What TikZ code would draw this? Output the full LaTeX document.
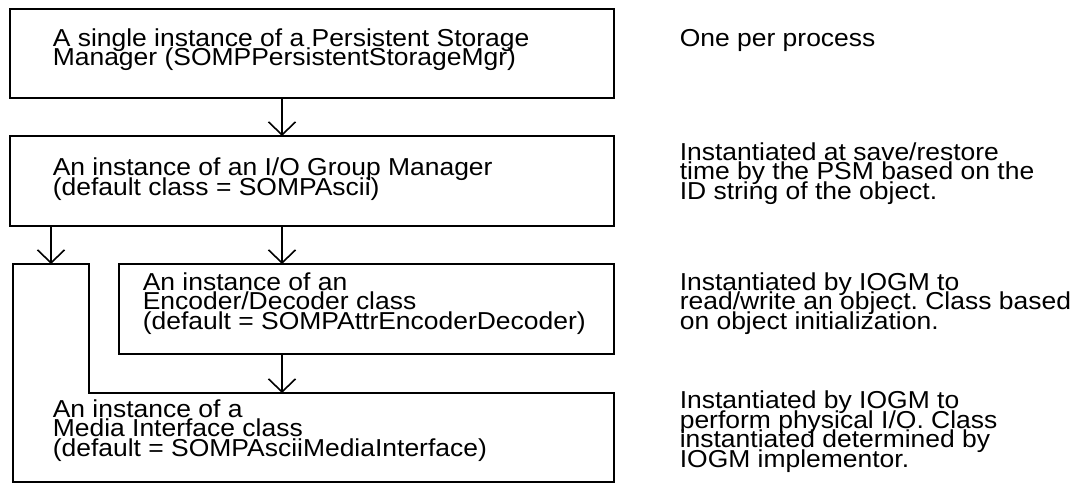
\documentclass[tikz,border=0pt]{standalone}
\usepackage{fontspec}
\setmainfont{Liberation Sans}[FakeStretch=1.08]
\usetikzlibrary{arrows.meta}
\tikzset{
	every path/.style={line width=1.6pt},
	box/.style={
		draw,
		rectangle,
		inner sep=0pt,
		outer sep=0pt,
	},
	hole/.style={
		rectangle,
		inner sep=0pt,
		outer sep=0pt,
	},
	txt/.style={
		font={\fontsize{24.5}{19.5}\selectfont\lineskiplimit=-100pt\frenchspacing},
		align=left,
		inner sep=0pt,
		anchor=base west,
	},
	flow/.style={
		-{Straight Barb[length=13pt,width=27pt]}
	},
}

\begin{document}
\begin{tikzpicture}[x=1pt,y=-1pt]
	\useasboundingbox (0,0) rectangle (1083,493);

	% the four levels, top to bottom
	\node[box,minimum width=604pt,minimum height=89pt,anchor=north west] (psm) at (10,9) {};
	\node[box,minimum width=604pt,minimum height=90pt,anchor=north west] (iogm) at (10,136) {};
	\node[box,minimum width=495pt,minimum height=90pt,anchor=north west] (encdec) at (119,264) {};
	\node[hole,minimum width=601pt,minimum height=218pt,anchor=north west] (media) at (13,264) {};
	\coordinate (notch) at (89,393);
	\draw (media.south west) -- (media.north west) -- (media.north west -| notch)
		-- (notch) -- (notch -| media.east) -- (media.south east) -- cycle;

	% base is the last line of each text
	\node[txt] (psmtext) at (52,65.5) {A single instance of a Persistent Storage\\Manager (SOMPPersistentStorageMgr)};
	\node[txt] (iogmtext) at (52,195) {An instance of an I/O Group Manager\\(default class = SOMPAscii)};
	\node[txt] (encdectext) at (142,329) {An instance of an\\Encoder/Decoder class\\(default = SOMPAttrEncoderDecoder)};
	\node[txt] (mediatext) at (52,456) {An instance of a\\Media Interface class\\(default = SOMPAsciiMediaInterface)};

	% notes on the right
	\node[txt] (psmnote) at (679,46) {One per process};
	\node[txt] (iogmnote) at (679,199) {Instantiated at save/restore\\time by the PSM based on the\\ID string of the object.};
	\node[txt] (encdecnote) at (679,329) {Instantiated by IOGM to\\read/write an object. Class based\\on object initialization.};
	\node[txt] (medianote) at (679,467) {Instantiated by IOGM to\\perform physical I/O. Class\\instantiated determined by\\IOGM implementor.};

	% arrows
	\coordinate (spine) at (282,0);
	\coordinate (side) at (51,0);
	\draw[flow] (spine |- psm.south) -- (spine |- iogm.north);
	\draw[flow] (spine |- iogm.south) -- (spine |- encdec.north);
	\draw[flow] (side |- iogm.south) -- (side |- media.north);
	\draw[flow] (spine |- encdec.south) -- (spine |- notch);
\end{tikzpicture}
\end{document}
